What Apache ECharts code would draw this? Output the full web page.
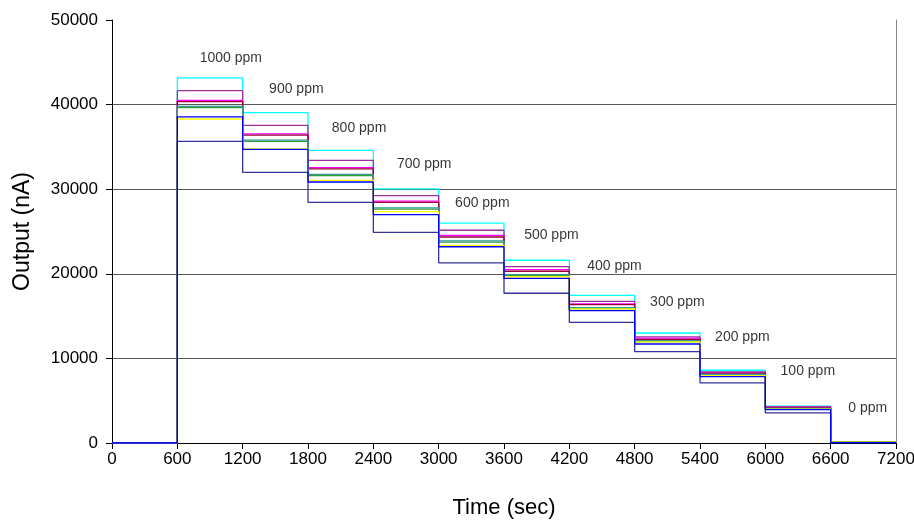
<!DOCTYPE html>
<html>
<head>
<meta charset="utf-8">
<script src="https://cdn.jsdelivr.net/npm/echarts@6/dist/echarts.min.js"></script>
<style>html,body{margin:0;padding:0;background:#fff}#c{width:914px;height:520px}</style>
</head>
<body>
<div id="c"></div>
<script>
// step start times (sec) and concentration labels
var stepTimes = [600, 1200, 1800, 2400, 3000, 3600, 4200, 4800, 5400, 6000, 6600];
var ppmLabels = ['1000 ppm','900 ppm','800 ppm','700 ppm','600 ppm','500 ppm','400 ppm','300 ppm','200 ppm','100 ppm','0 ppm'];
var labelX = [1091, 1693, 2269, 2868, 3401, 4035, 4614, 5192, 5789, 6390, 6941];
var labelY = [45500, 41800, 37200, 33000, 28400, 24570, 20940, 16650, 12520, 8460, 4130];

// output (nA) of each sensor at each step
var sCyan    = [43150, 39050, 34600, 30050, 26000, 21600, 17450, 13000, 8600, 4350, 100];
var sPurple  = [41650, 37550, 33400, 29250, 25150, 20850, 16750, 12550, 8400, 4300, 100];
var sMagenta = [40500, 36550, 32550, 28600, 24550, 20500, 16450, 12400, 8300, 4200, 100];
var sDarkRed = [40350, 36400, 32400, 28450, 24350, 20300, 16350, 12250, 8250, 4150, 100];
var sTeal    = [39800, 35800, 31750, 27800, 23900, 19900, 16000, 12100, 8100, 4100, 100];
var sGreen   = [39650, 35650, 31600, 27650, 23750, 19800, 15900, 12000, 8000, 4050, 100];
var sYellow  = [38300, 34750, 31050, 27350, 23350, 19650, 15850, 11950, 7950, 4000, 100];
var sNavy    = [35650, 32000, 28450, 24900, 21300, 17700, 14250, 10800, 7100, 3550, 50];
var sBlue    = [38550, 34700, 30850, 27000, 23200, 19450, 15650, 11700, 7850, 3950, 50];

var endTime = 7200;

function build(vals){
  var d = [[0,0]];
  for (var i=0;i<stepTimes.length;i++) d.push([stepTimes[i], vals[i]]);
  d.push([endTime, vals[vals.length-1]]);
  return d;
}
var defs = [
  ['cyan', sCyan, '#00FFFF'],
  ['purple', sPurple, '#993399'],
  ['magenta', sMagenta, '#FF00FF'],
  ['darkred', sDarkRed, '#990033'],
  ['green', sGreen, '#33A033'],
  ['teal', sTeal, '#339999'],
  ['yellow', sYellow, '#FFFF00'],
  ['navy', sNavy, '#333399'],
  ['blue', sBlue, '#0000FF']
];
var series = defs.map(function(s){
  return {name:s[0], type:'line', step:'end', data:build(s[1]), symbol:'none',
    lineStyle:{color:s[2], width:1.3}, itemStyle:{color:s[2]}, animation:false, z:2};
});
var lab = ppmLabels.map(function(t,i){ return {name:t, value:[labelX[i], labelY[i]]}; });
series.push({type:'scatter', data:lab, symbolSize:0, silent:true, animation:false, z:5,
  label:{show:true, position:'inside', formatter:'{b}', color:'#000', fontSize:14, fontFamily:'Liberation Sans, Arial, sans-serif'}});

var ff = 'Liberation Sans, Arial, sans-serif';
function plain(v){ return String(v); }
var chart = echarts.init(document.getElementById('c'));
chart.setOption({
  backgroundColor:'#fff',
  animation:false,
  grid:{left:112, right:18, top:20, bottom:77, containLabel:false, outerBoundsMode:'none'},
  xAxis:{type:'value', min:0, max:7200, interval:600,
    name:'Time (sec)', nameLocation:'middle', nameGap:54,
    nameTextStyle:{fontSize:22, color:'#000', fontFamily:ff},
    axisLine:{show:true, lineStyle:{color:'#000', width:1}},
    axisTick:{show:true, length:6, lineStyle:{color:'#000'}},
    axisLabel:{fontSize:17, color:'#000', fontFamily:ff, margin:8, formatter:plain},
    splitLine:{show:false}},
  yAxis:[{type:'value', min:0, max:50000, interval:10000,
    name:'Output (nA)', nameLocation:'middle', nameGap:78,
    nameTextStyle:{fontSize:23, color:'#000', fontFamily:ff},
    axisLine:{show:true, lineStyle:{color:'#000', width:1}},
    axisTick:{show:true, length:6, lineStyle:{color:'#000'}},
    axisLabel:{fontSize:17, color:'#000', fontFamily:ff, margin:14, formatter:plain},
    splitLine:{show:true, showMinLine:false, showMaxLine:false, lineStyle:{color:'#555', width:1}}},
   {type:'value', min:0, max:50000, interval:10000, position:'right',
    axisLine:{show:true, lineStyle:{color:'#888', width:1}},
    axisTick:{show:false}, axisLabel:{show:false}, splitLine:{show:false}}],
  series:series
});
</script>
</body>
</html>
